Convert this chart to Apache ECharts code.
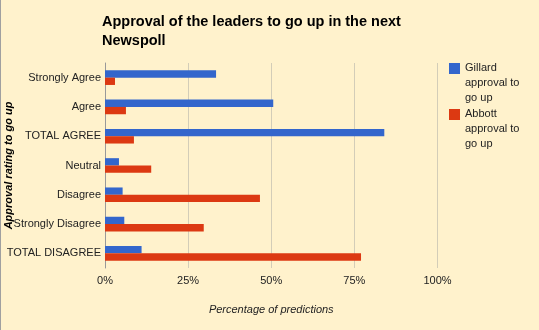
<!DOCTYPE html>
<html><head><meta charset="utf-8">
<script src="https://cdn.jsdelivr.net/npm/echarts@6/dist/echarts.min.js"></script>
<style>html,body{margin:0;padding:0;background:#FFF2CC;}#c{width:539px;height:330px;}</style>
</head><body><div id="c"></div>
<script>
var categories = ['Strongly Agree','Agree','TOTAL AGREE','Neutral','Disagree','Strongly Disagree','TOTAL DISAGREE'];
var gillard = [33.4, 50.6, 84.0, 4.2, 5.3, 5.8, 11.0];
var abbott = [3.0, 6.3, 8.7, 13.9, 46.6, 29.7, 77.0];
var seriesNames = ['Gillard approval to go up', 'Abbott approval to go up'];
var legendLabels = {
  'Gillard approval to go up': 'Gillard\napproval to\ngo up',
  'Abbott approval to go up': 'Abbott\napproval to\ngo up'
};
var xTicks = [0, 25, 50, 75, 100];

var chart = echarts.init(document.getElementById('c'), null, {renderer:'canvas'});
var font = 'Liberation Sans, Arial, sans-serif';
chart.setOption({
  backgroundColor: '#FFF2CC',
  animation: false,
  title: {
    text: 'Approval of the leaders to go up in the next\nNewspoll',
    left: 102, top: 12, padding: 0,
    textStyle: { fontFamily: font, fontSize: 14.5, fontWeight: 'bold', color: '#000', lineHeight: 19 }
  },
  legend: {
    data: seriesNames, orient: 'vertical', left: 449, top: 61,
    itemWidth: 11, itemHeight: 40, itemGap: 2.2, padding: 0,
    icon: 'path://M0,0L11,0L11,11L0,11Z M0,40L0.001,40Z', selectedMode: false,
    formatter: function (n) { return legendLabels[n]; },
    textStyle: { fontFamily: font, fontSize: 11, color: '#222', lineHeight: 14.6 }
  },
  grid: { left: 105, right: 101.5, top: 63, bottom: 62, containLabel: false, outerBoundsMode: 'none' },
  xAxis: {
    type: 'value', min: xTicks[0], max: xTicks[xTicks.length - 1], interval: 25,
    name: 'Percentage of predictions', nameLocation: 'middle', nameGap: 36, nameMoveOverlap: false,
    nameTextStyle: { fontFamily: font, fontSize: 11, fontStyle: 'italic', color: '#222' },
    axisLine: { show: false }, axisTick: { show: false },
    axisLabel: { fontFamily: font, fontSize: 11, color: '#222', margin: 7, formatter: '{value}%' },
    splitLine: { show: true, lineStyle: { color: '#d3cdb8', width: 1 } }
  },
  yAxis: {
    type: 'category', data: categories, inverse: true,
    name: 'Approval rating to go up', nameLocation: 'middle', nameGap: 91, nameMoveOverlap: false,
    nameTextStyle: { fontFamily: font, fontSize: 11, fontStyle: 'italic', fontWeight: 'bold', color: '#000' },
    axisLine: { show: true, lineStyle: { color: '#999', width: 1 } },
    axisTick: { show: false },
    axisLabel: { fontFamily: font, fontSize: 11, color: '#222', margin: 4 },
    splitLine: { show: false }
  },
  series: [
    { name: seriesNames[0], type: 'bar', data: gillard, barCategoryGap: '50%', barGap: '0%', itemStyle: { color: '#3366CC' } },
    { name: seriesNames[1], type: 'bar', data: abbott, barCategoryGap: '50%', barGap: '0%', itemStyle: { color: '#DC3912' } }
  ],
  graphic: [{ type: 'rect', left: 0, top: 0, shape: { width: 1, height: 330 }, style: { fill: '#a0a0a0' }, silent: true }]
});
</script></body></html>
